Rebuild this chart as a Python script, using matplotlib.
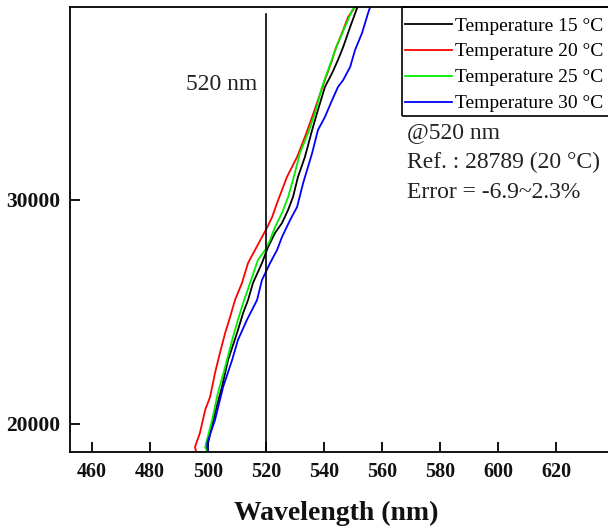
import matplotlib
matplotlib.use("Agg")
import matplotlib.pyplot as plt
from matplotlib.patches import Rectangle

# Data (wavelength nm, value)
wl_15 = [499.7, 499.7, 502.4, 504.8, 506.9, 510.0, 512.1, 513.8, 515.5, 518.6, 520.7, 523.1, 525.5,
         527.6, 529.3, 531.0, 533.4, 535.9, 537.9, 540.3, 542.8, 544.8, 546.6, 549.0, 551.4]
v_15 = [18750, 18973, 20491, 21652, 22857, 24063, 24955, 25536, 26295, 27188, 27902, 28527, 28973,
        29554, 30134, 31027, 31920, 33125, 34018, 35045, 35670, 36250, 36830, 37723, 38571]

wl_20 = [495.9, 495.5, 497.2, 499.0, 500.7, 502.4, 504.1, 505.9, 507.6, 509.3, 511.7, 513.8, 516.2,
         518.6, 520.3, 522.1, 523.8, 525.5, 527.2, 530.7, 533.4, 535.9, 537.9, 540.3, 542.8, 543.8,
         546.2, 548.3, 550.7]
v_20 = [18750, 18973, 19598, 20625, 21205, 22277, 23170, 24063, 24777, 25536, 26295, 27188, 27768,
        28348, 28750, 29241, 29866, 30446, 31027, 31920, 32813, 33705, 34464, 35357, 36250, 36696,
        37455, 38170, 38616]

wl_25 = [499.7, 499.0, 501.4, 503.4, 505.9, 508.3, 510.3, 512.1, 515.2, 517.2, 519.7, 521.4, 523.1,
         525.5, 527.6, 529.3, 531.7, 534.5, 536.9, 539.3, 541.4, 544.8, 547.2, 549.7, 550.7]
v_25 = [18750, 18973, 20179, 21384, 22545, 23750, 24643, 25402, 26563, 27321, 27768, 28214, 28795,
        29420, 30134, 30893, 32098, 32991, 33884, 35045, 35804, 37009, 37723, 38482, 38616]

wl_30 = [500.0, 499.7, 502.4, 505.2, 508.3, 510.3, 513.4, 516.9, 518.6, 521.4, 523.8, 525.5, 528.3,
         530.7, 532.8, 535.9, 537.9, 540.3, 542.8, 544.8, 546.6, 549.0, 550.7, 553.1, 555.2, 555.9]
v_30 = [18750, 19152, 20179, 21652, 22857, 23750, 24643, 25536, 26429, 27188, 27768, 28348, 29107,
        29688, 30759, 32098, 33125, 33705, 34464, 35045, 35357, 35938, 36696, 37455, 38348, 38616]

labels = ["Temperature 15 \u00b0C", "Temperature 20 \u00b0C", "Temperature 25 \u00b0C", "Temperature 30 \u00b0C"]
colors = ["black", "#ff0000", "#00ee00", "#0000ff"]
xticks = [460, 480, 500, 520, 540, 560, 580, 600, 620]
yticks = [20000, 30000]

plt.rcParams['font.family'] = ['Liberation Serif', 'DejaVu Serif']

fig = plt.figure(figsize=(6.08, 5.29), dpi=100)
W, H = 608, 529
left_px, bottom_px, top_px = 70, 452, 7
xmin, xmax = 452.4, 645.0
px_per_nm = 2.9
right_px = left_px + (xmax - xmin) * px_per_nm
ax = fig.add_axes([left_px / W, 1 - bottom_px / H, (right_px - left_px) / W, (bottom_px - top_px) / H])

for wl, v, c, lab in zip([wl_15, wl_20, wl_25, wl_30], [v_15, v_20, v_25, v_30], colors, labels):
    ax.plot(wl, v, color=c, lw=1.3, label=lab)

ax.axvline(520, color='black', lw=1.2, ymax=0.985)

ax.set_xlim(xmin, xmax)
ax.set_ylim(18750, 38616)
ax.set_xticks(xticks)
ax.set_yticks(yticks)
ax.tick_params(direction='in', length=7, width=1.3, pad=7)
ax.tick_params(axis='x', labelsize=14.5)
ax.tick_params(axis='y', labelsize=15.5)
for lab in ax.get_xticklabels() + ax.get_yticklabels():
    lab.set_fontweight('bold')
    lab.set_color('#111111')
for s in ax.spines.values():
    s.set_linewidth(1.3)

fig.text(336 / W, 1 - 513 / H, "Wavelength (nm)", ha='center', va='center',
         fontsize=20, fontweight='bold', color='#111111')

leg = fig.legend(loc='upper left', bbox_to_anchor=(402 / W, 1 - 14 / H),
                 bbox_transform=fig.transFigure, fontsize=14, frameon=False,
                 borderaxespad=0, handlelength=2.4, handletextpad=0.2,
                 borderpad=0.15, labelspacing=0.43)

# legend box
fig.patches.append(Rectangle((402 / W, 1 - 116 / H), 210 / W, 109 / H, transform=fig.transFigure,
                             fill=False, edgecolor='black', linewidth=1.2, zorder=5))

fig.text(186 / W, 1 - 84 / H, "520 nm", ha='left', va='center', fontsize=17, color='#222222')
fig.text(407 / W, 1 - 133 / H, "@520 nm", ha='left', va='center', fontsize=17, color='#222222')
fig.text(407 / W, 1 - 162 / H, "Ref. : 28789 (20 \u00b0C)", ha='left', va='center', fontsize=17, color='#222222')
fig.text(407 / W, 1 - 193 / H, "Error = -6.9~2.3%", ha='left', va='center', fontsize=17, color='#222222')

fig.savefig("out.png", dpi=100)
